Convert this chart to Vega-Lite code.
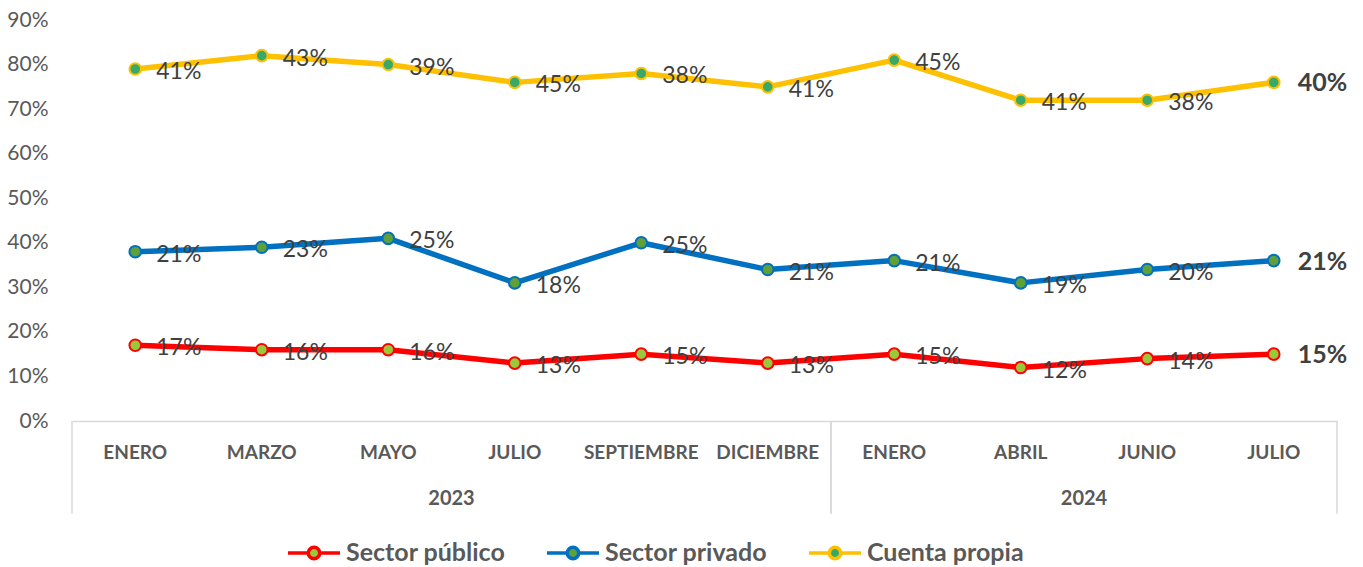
{
  "$schema": "https://vega.github.io/schema/vega-lite/v6.json",
  "width": 1265,
  "height": 401,
  "autosize": {"type": "none"},
  "padding": {"left": 72, "top": 20, "right": 26, "bottom": 146},
  "background": "white",
  "config": {"view": {"stroke": null}, "font": "Lato", "legend": {"padding": 0}},
  "datasets": {
    "empleo": [
      {"anio": "2023", "periodo": "2023-01 ENERO", "serie": "Sector público", "valor": 0.17},
      {"anio": "2023", "periodo": "2023-01 ENERO", "serie": "Sector privado", "valor": 0.21},
      {"anio": "2023", "periodo": "2023-01 ENERO", "serie": "Cuenta propia", "valor": 0.41},
      {"anio": "2023", "periodo": "2023-03 MARZO", "serie": "Sector público", "valor": 0.16},
      {"anio": "2023", "periodo": "2023-03 MARZO", "serie": "Sector privado", "valor": 0.23},
      {"anio": "2023", "periodo": "2023-03 MARZO", "serie": "Cuenta propia", "valor": 0.43},
      {"anio": "2023", "periodo": "2023-05 MAYO", "serie": "Sector público", "valor": 0.16},
      {"anio": "2023", "periodo": "2023-05 MAYO", "serie": "Sector privado", "valor": 0.25},
      {"anio": "2023", "periodo": "2023-05 MAYO", "serie": "Cuenta propia", "valor": 0.39},
      {"anio": "2023", "periodo": "2023-07 JULIO", "serie": "Sector público", "valor": 0.13},
      {"anio": "2023", "periodo": "2023-07 JULIO", "serie": "Sector privado", "valor": 0.18},
      {"anio": "2023", "periodo": "2023-07 JULIO", "serie": "Cuenta propia", "valor": 0.45},
      {"anio": "2023", "periodo": "2023-09 SEPTIEMBRE", "serie": "Sector público", "valor": 0.15},
      {"anio": "2023", "periodo": "2023-09 SEPTIEMBRE", "serie": "Sector privado", "valor": 0.25},
      {"anio": "2023", "periodo": "2023-09 SEPTIEMBRE", "serie": "Cuenta propia", "valor": 0.38},
      {"anio": "2023", "periodo": "2023-12 DICIEMBRE", "serie": "Sector público", "valor": 0.13},
      {"anio": "2023", "periodo": "2023-12 DICIEMBRE", "serie": "Sector privado", "valor": 0.21},
      {"anio": "2023", "periodo": "2023-12 DICIEMBRE", "serie": "Cuenta propia", "valor": 0.41},
      {"anio": "2024", "periodo": "2024-01 ENERO", "serie": "Sector público", "valor": 0.15},
      {"anio": "2024", "periodo": "2024-01 ENERO", "serie": "Sector privado", "valor": 0.21},
      {"anio": "2024", "periodo": "2024-01 ENERO", "serie": "Cuenta propia", "valor": 0.45},
      {"anio": "2024", "periodo": "2024-04 ABRIL", "serie": "Sector público", "valor": 0.12},
      {"anio": "2024", "periodo": "2024-04 ABRIL", "serie": "Sector privado", "valor": 0.19},
      {"anio": "2024", "periodo": "2024-04 ABRIL", "serie": "Cuenta propia", "valor": 0.41},
      {"anio": "2024", "periodo": "2024-06 JUNIO", "serie": "Sector público", "valor": 0.14},
      {"anio": "2024", "periodo": "2024-06 JUNIO", "serie": "Sector privado", "valor": 0.20},
      {"anio": "2024", "periodo": "2024-06 JUNIO", "serie": "Cuenta propia", "valor": 0.38},
      {"anio": "2024", "periodo": "2024-07 JULIO", "serie": "Sector público", "valor": 0.15},
      {"anio": "2024", "periodo": "2024-07 JULIO", "serie": "Sector privado", "valor": 0.21},
      {"anio": "2024", "periodo": "2024-07 JULIO", "serie": "Cuenta propia", "valor": 0.40}
    ],
    "anios": [
      {"anio": "2023", "desde": "2023-01 ENERO", "hasta": "2023-12 DICIEMBRE"},
      {"anio": "2024", "desde": "2024-01 ENERO", "hasta": "2024-07 JULIO"}
    ]
  },
  "resolve": {"scale": {"x": "independent"}, "axis": {"x": "independent"}},
  "layer": [
    {
      "data": {"name": "empleo"},
      "transform": [
        {"window": [{"op": "dense_rank", "as": "n"}], "sort": [{"field": "periodo"}]},
        {"aggregate": [{"op": "mean", "field": "n", "as": "centro"}], "groupby": ["anio"]}
      ],
      "mark": {"type": "text", "font": "Lato", "fontSize": 20, "fontWeight": "bold", "color": "#595959", "baseline": "middle", "align": "center", "dy": 78},
      "encoding": {
        "x": {"field": "centro", "type": "quantitative", "scale": {"domain": [0.5, 10.5], "nice": false, "zero": false}, "axis": null},
        "y": {"datum": 0, "type": "quantitative", "title": null},
        "text": {"field": "anio"}
      }
    },
    {
      "layer": [
        {
          "data": {"name": "anios"},
          "mark": {"type": "rule", "color": "#D9D9D9", "strokeWidth": 1.5},
          "encoding": {
            "x": {"field": "desde", "type": "ordinal", "bandPosition": 0, "title": null},
            "y": {"datum": 0, "type": "quantitative", "title": null},
            "y2": {"datum": -0.208}
          }
        },
        {
          "data": {"name": "anios"},
          "mark": {"type": "rule", "color": "#D9D9D9", "strokeWidth": 1.5},
          "encoding": {
            "x": {"field": "hasta", "type": "ordinal", "bandPosition": 1, "title": null},
            "y": {"datum": 0, "type": "quantitative", "title": null},
            "y2": {"datum": -0.208}
          }
        },
        {
          "data": {"name": "empleo"},
          "transform": [
            {"stack": "valor", "groupby": ["periodo"], "sort": [{"field": "serie", "order": "descending"}], "as": ["v0", "v1"]}
          ],
          "encoding": {
            "x": {
              "field": "periodo", "type": "ordinal", "title": null,
              "scale": {"type": "band", "paddingInner": 0, "paddingOuter": 0},
              "axis": {
                "labelExpr": "split(datum.label, ' ')[1]", "labelAngle": 0, "labelAlign": "center", "labelBaseline": "middle",
                "labelFont": "Lato", "labelFontSize": 19, "labelFontWeight": "bold", "labelColor": "#595959",
                "labelPadding": 31, "ticks": false, "domainColor": "#D9D9D9", "domainWidth": 1.5,
                "labelOverlap": false, "labelBound": false, "grid": false
              }
            },
            "y": {
              "field": "v1", "type": "quantitative", "title": null,
              "scale": {"domain": [0, 0.9], "nice": false},
              "axis": {
                "format": ".0%", "values": [0, 0.1, 0.2, 0.3, 0.4, 0.5, 0.6, 0.7, 0.8, 0.9],
                "labelFont": "Lato", "labelFontSize": 21, "labelColor": "#595959", "labelPadding": 24,
                "ticks": false, "domain": false, "gridColor": "#D9D9D9", "gridWidth": 1.5
              }
            }
          },
          "layer": [
            {
              "mark": {"type": "line", "strokeWidth": 5.5, "strokeCap": "round", "strokeJoin": "round"},
              "encoding": {
                "stroke": {
                  "field": "serie", "type": "nominal",
                  "scale": {"domain": ["Sector público", "Sector privado", "Cuenta propia"], "range": ["#FF0000", "#0070C0", "#FFC000"]},
                  "legend": {
                    "orient": "none", "legendX": 214, "legendY": 505, "direction": "horizontal", "title": null,
                    "symbolType": "M-1,0H-0.22M0.22,0H1M0.22,0A0.22,0.22 0 1 1 -0.22,0A0.22,0.22 0 1 1 0.22,0Z",
                    "symbolSize": 2704, "symbolStrokeWidth": 3.5,
                    "labelFont": "Lato", "labelFontSize": 25, "labelFontWeight": "bold", "labelColor": "#595959",
                    "labelOffset": 4, "columnPadding": 34, "labelLimit": 400,
                    "encode": {"symbols": {"update": {"fill": {"scale": "fill", "field": "value"}, "strokeWidth": {"value": 3.5}, "opacity": {"value": 1}}}}
                  }
                }
              }
            },
            {
              "mark": {"type": "point", "filled": true, "size": 135, "strokeWidth": 2, "opacity": 1},
              "encoding": {
                "stroke": {"field": "serie", "type": "nominal"},
                "fill": {
                  "field": "serie", "type": "nominal",
                  "scale": {"domain": ["Sector público", "Sector privado", "Cuenta propia"], "range": ["#99C93B", "#5FA03A", "#38A96A"]},
                  "legend": null
                }
              }
            },
            {
              "transform": [{"filter": "datum.periodo != '2024-07 JULIO'"}],
              "mark": {"type": "text", "align": "left", "baseline": "middle", "dx": 21, "dy": 3, "font": "Lato", "fontSize": 23, "color": "#404040"},
              "encoding": {"text": {"field": "valor", "type": "quantitative", "format": ".0%"}}
            },
            {
              "transform": [{"filter": "datum.periodo == '2024-07 JULIO'"}],
              "mark": {"type": "text", "align": "left", "baseline": "middle", "dx": 24, "dy": 1, "font": "Lato", "fontSize": 25, "fontWeight": "bold", "color": "#404040"},
              "encoding": {"text": {"field": "valor", "type": "quantitative", "format": ".0%"}}
            }
          ]
        }
      ]
    }
  ]
}
